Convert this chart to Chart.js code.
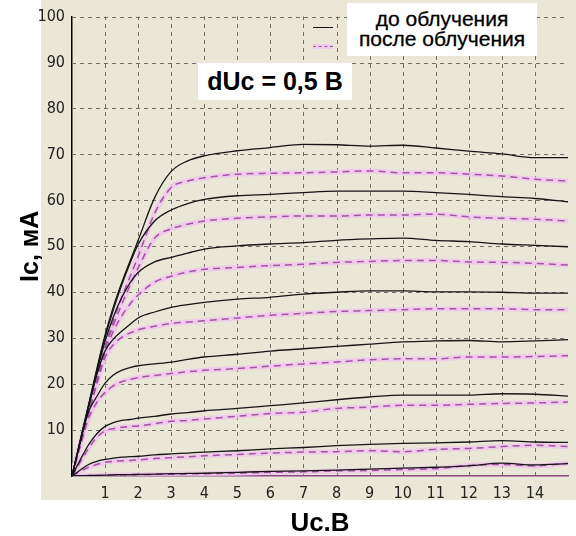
<!DOCTYPE html>
<html>
<head>
<meta charset="utf-8">
<script src="https://cdn.jsdelivr.net/npm/chart.js@4.4.1/dist/chart.umd.min.js"></script>
<style>
  body { margin: 0; background: #fff; }
  #wrap { position: relative; width: 576px; height: 536px; overflow: hidden; background: #fff; }
  #panel { position: absolute; left: 41px; top: 0; width: 535px; height: 500px; background: #eae7d7; }
  canvas { position: absolute; left: 0; top: 0; }
  .box { position: absolute; background: #fff; color: #000; font-family: "Liberation Sans", Arial, sans-serif; }
  #legend { left: 347px; top: 3px; width: 190px; height: 53px; text-align: center; font-size: 21px; line-height: 20px; padding-top: 6px; box-sizing: border-box; -webkit-text-stroke: 0.3px #000; }
  #dUc { left: 198px; top: 63px; width: 154px; height: 37px; text-align: center; font-size: 25px; font-weight: bold; line-height: 37px; }
  .sample { position: absolute; left: 313px; width: 20px; }
</style>
</head>
<body>
<div id="wrap">
  <div id="panel"></div>
  <canvas id="ivChart" width="576" height="536"></canvas>
  <div class="sample" style="top:27px;height:0;border-top:1.5px solid #111;"></div>
  <div class="sample" style="top:44px;height:5px;background:rgba(240,200,238,0.85);"></div>
  <div class="sample" style="top:46px;height:0;border-top:1.5px dashed #a452a4;"></div>
  <div id="legend" class="box">до облучения<br>после облучения</div>
  <div id="dUc" class="box">dUc = 0,5 В</div>
</div>
<script>
// Uc, V
const uc = [0, 0.25, 0.5, 0.75, 1, 1.25, 1.5, 1.75, 2, 2.5, 3, 3.5, 4, 5, 6, 7, 8, 9, 10, 11, 12, 13, 14, 15];

// Ic, mA - before irradiation (solid black)
const before1 = [0, 7.8, 15.5, 23.3, 30.7, 36.8, 42, 46.7, 51.3, 60.6, 66.3, 68.6, 69.7, 70.8, 71.5, 72.2, 72.1, 71.8, 72, 71.4, 70.7, 70.1, 69.3, 69.3];
const before2 = [0, 7.7, 15.3, 23, 30.2, 36.2, 41.5, 46.2, 50.4, 55.5, 57.9, 59.3, 60.2, 61, 61.3, 61.7, 62, 62, 62, 61.7, 61.3, 60.8, 60.4, 59.7];
const before3 = [0, 7.6, 15.1, 22.5, 29.3, 34.6, 38.8, 42, 44.3, 46.6, 47.6, 48.5, 49.4, 50.1, 50.5, 50.8, 51.3, 51.6, 51.8, 51.3, 51, 50.5, 50.2, 49.9];
const before4 = [0, 7.5, 14.9, 22, 27.2, 29.8, 31.5, 33, 34.4, 35.7, 36.7, 37.3, 37.8, 38.5, 38.9, 39.6, 40, 40.3, 40.3, 40.1, 40.1, 40, 39.8, 39.8];
const before5 = [0, 7.3, 14, 17.3, 20.2, 22, 23, 23.6, 24, 24.4, 24.8, 25.4, 25.9, 26.5, 27.2, 27.7, 28.2, 28.7, 29.2, 29.4, 29.5, 29.2, 29.4, 29.7];
const before6 = [0, 3.5, 6.8, 9.2, 10.8, 11.6, 12.1, 12.3, 12.6, 13, 13.5, 13.8, 14.2, 14.7, 15.3, 15.9, 16.6, 17.2, 17.6, 17.6, 17.6, 17.9, 17.8, 17.4];
const before7 = [0, 1.3, 2.5, 3.2, 3.6, 3.9, 4.1, 4.2, 4.3, 4.6, 4.8, 5, 5.2, 5.5, 5.9, 6.2, 6.6, 6.9, 7.1, 7.2, 7.4, 7.7, 7.4, 7.3];
const before8 = [0, 0.05, 0.1, 0.15, 0.2, 0.25, 0.3, 0.3, 0.35, 0.4, 0.5, 0.55, 0.6, 0.8, 1, 1.1, 1.3, 1.5, 1.7, 1.9, 2.2, 2.8, 2.4, 2.7];

// Ic, mA - after irradiation (pink dashed)
const after1 = [0, 7, 14, 21, 28.2, 33.8, 38.8, 43.3, 47.8, 57.2, 62.8, 64.2, 64.9, 65.7, 65.9, 66, 66.2, 66.4, 66, 66, 65.7, 65.3, 64.6, 64.2];
const after2 = [0, 7, 13.9, 20.8, 27.7, 32.8, 37.3, 41.4, 45.3, 51.8, 53.8, 54.8, 55.5, 56.1, 56.4, 56.6, 56.6, 56.8, 56.8, 57, 56.4, 56.1, 55.9, 55.5];
const after3 = [0, 6.9, 13.8, 20.5, 26.8, 31.5, 34.8, 37.4, 39.4, 42.2, 43.5, 44.4, 45, 45.4, 45.8, 46.1, 46.5, 46.7, 46.9, 46.9, 46.6, 46.5, 46.3, 45.9];
const after4 = [0, 6.8, 13.5, 20, 25.8, 28.6, 30.2, 31.1, 31.8, 32.6, 33.2, 33.5, 33.8, 34.4, 35, 35.4, 35.8, 36, 36.2, 36.4, 36.4, 36.4, 36.2, 36.2];
const after5 = [0, 6.5, 12.5, 16, 18.2, 19.6, 20.5, 21, 21.4, 21.9, 22.3, 22.7, 23, 23.4, 23.9, 24.4, 24.8, 25.3, 25.5, 25.5, 25.9, 25.9, 26, 26.2];
const after6 = [0, 3, 6, 8.4, 9.8, 10.3, 10.6, 10.8, 10.9, 11.4, 11.9, 12.1, 12.4, 13, 13.6, 13.9, 14.7, 15, 15.4, 15.4, 15.6, 15.8, 15.9, 16.1];
const after7 = [0, 1, 1.9, 2.5, 3, 3.2, 3.3, 3.4, 3.5, 3.8, 4, 4.2, 4.4, 4.7, 5, 5.2, 5.3, 5.5, 5.3, 5.8, 6, 6.4, 6.7, 6.4];
const after8 = [0, 0.05, 0.1, 0.1, 0.15, 0.2, 0.2, 0.25, 0.3, 0.35, 0.4, 0.45, 0.5, 0.6, 0.8, 0.9, 1.1, 1.2, 1.4, 1.6, 2.3, 2.5, 2.2, 2.8];

const beforeSeries = [before1, before2, before3, before4, before5, before6, before7, before8];
const afterSeries = [after1, after2, after3, after4, after5, after6, after7, after8];

const yTicks = [10, 20, 30, 40, 50, 60, 70, 80, 90, 100];
const xTicks = [1, 2, 3, 4, 5, 6, 7, 8, 9, 10, 11, 12, 13, 14];

function toPoints(vals) {
  return vals.map((v, i) => ({ x: uc[i], y: v }));
}

const datasets = [];
// pale pink band under each dashed curve
afterSeries.forEach((s, i) => datasets.push({
  label: 'band' + (i + 1), data: toPoints(s),
  borderColor: 'rgba(240,196,238,0.8)', borderWidth: 5, order: 3
}));
afterSeries.forEach((s, i) => datasets.push({
  label: 'после облучения ' + (i + 1), data: toPoints(s),
  borderColor: '#a452a4', borderWidth: 1.5, borderDash: [7, 5], order: 2
}));
beforeSeries.forEach((s, i) => datasets.push({
  label: 'до облучения ' + (i + 1), data: toPoints(s),
  borderColor: '#151515', borderWidth: 1.3, order: 1
}));

// dashed grid drawn on the scales' tick positions
const dashedGrid = {
  id: 'dashedGrid',
  beforeDatasetsDraw(chart) {
    const { ctx, chartArea: a, scales: { x, y } } = chart;
    ctx.save();
    ctx.strokeStyle = '#6f6d66';
    ctx.lineWidth = 1;
    ctx.setLineDash([4, 4]);
    xTicks.forEach(v => {
      const px = Math.round(x.getPixelForValue(v)) + 0.5;
      ctx.beginPath(); ctx.moveTo(px, a.bottom); ctx.lineTo(px, a.top); ctx.stroke();
    });
    yTicks.forEach(v => {
      const py = Math.round(y.getPixelForValue(v)) + 0.5;
      ctx.beginPath(); ctx.moveTo(a.left, py); ctx.lineTo(a.right, py); ctx.stroke();
    });
    ctx.restore();
  }
};

const tickFont = { family: '"Liberation Sans Narrow", "DejaVu Sans Condensed", sans-serif', size: 16 };

new Chart(document.getElementById('ivChart').getContext('2d'), {
  type: 'line',
  data: { datasets: datasets },
  plugins: [dashedGrid],
  options: {
    responsive: false,
    animation: false,
    layout: { padding: { left: 0, top: 15, right: 0, bottom: 0 } },
    elements: {
      point: { radius: 0 },
      line: { cubicInterpolationMode: 'monotone', fill: false }
    },
    plugins: { legend: { display: false }, tooltip: { enabled: false } },
    scales: {
      x: {
        type: 'linear', min: 0, max: 15,
        afterFit: s => { s.height = 60; },
        afterBuildTicks: s => { s.ticks = [0].concat(xTicks, [15]).map(v => ({ value: v })); },
        ticks: {
          autoSkip: false, maxRotation: 0, padding: 8, color: '#222', font: tickFont,
          callback: v => (xTicks.includes(v) ? String(v) : '')
        },
        grid: { drawTicks: false, color: 'rgba(0,0,0,0)' },
        border: { display: true, color: '#8a4a8a', width: 1.5 },
        title: {
          display: true, text: 'Uc.B', color: '#000',
          font: { family: '"Liberation Sans", Arial, sans-serif', size: 26, weight: 'bold', lineHeight: 1 },
          padding: { top: 0, bottom: -1 }
        }
      },
      y: {
        type: 'linear', min: 0, max: 100,
        afterFit: s => { s.width = 72; },
        afterBuildTicks: s => { s.ticks = [0].concat(yTicks).map(v => ({ value: v })); },
        ticks: {
          padding: 7, color: '#222', font: tickFont,
          callback: v => (yTicks.includes(v) ? String(v) : '')
        },
        grid: { drawTicks: false, color: 'rgba(0,0,0,0)' },
        border: { display: true, color: '#000', width: 1.5 },
        title: {
          display: true, text: 'Ic, мА', color: '#000',
          font: { family: '"Liberation Sans", Arial, sans-serif', size: 25, weight: 'bold' },
          padding: { top: 16, bottom: 0 }
        }
      }
    }
  }
});
</script>
</body>
</html>
